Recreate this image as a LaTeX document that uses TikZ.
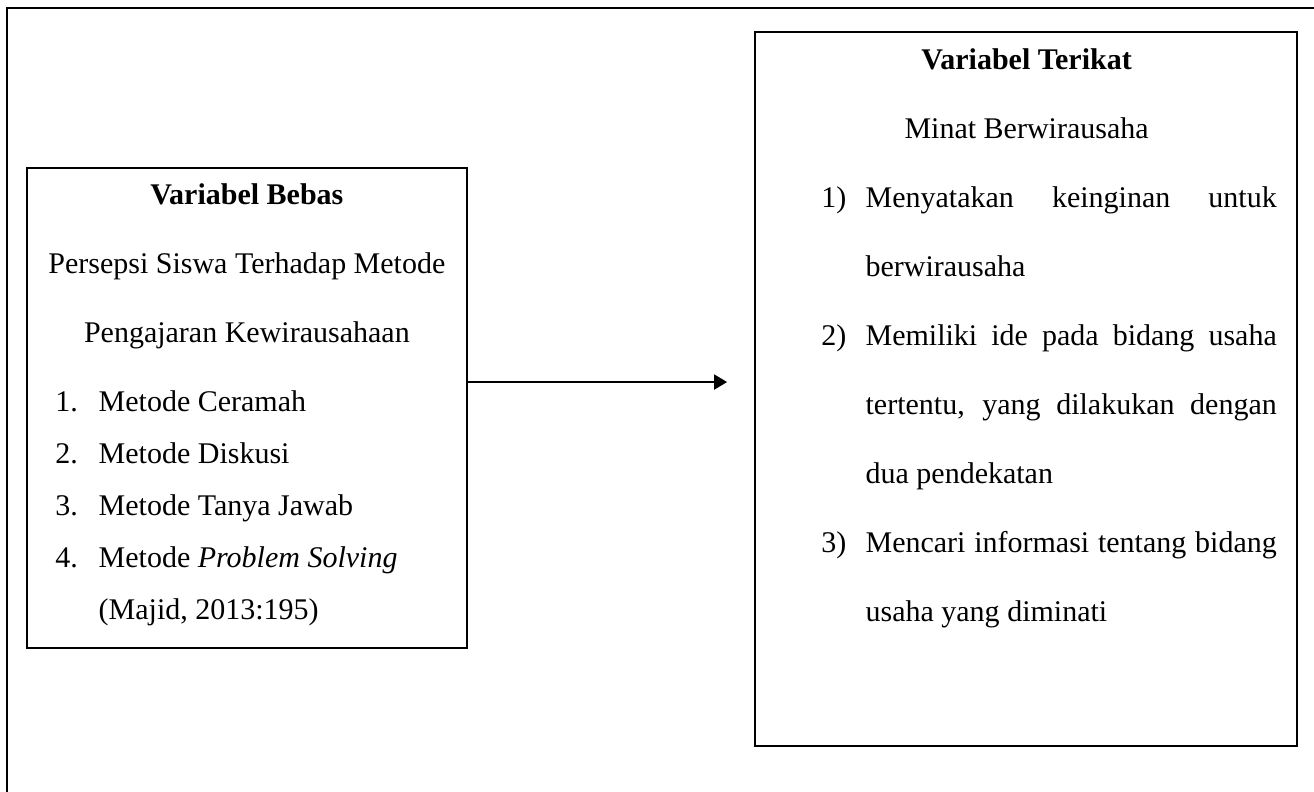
\documentclass[tikz,border=0pt]{standalone}
\usepackage{fontspec}
\setmainfont{Liberation Serif}
\usetikzlibrary{arrows.meta}

\begin{document}
\begin{tikzpicture}[
        box/.style={draw, line width=0.8pt, inner sep=0pt},
        txt/.style={inner sep=0pt, anchor=base, font=\fontsize{12}{14}\selectfont},
        txtl/.style={txt, anchor=base west}
    ]
                \useasboundingbox (0,0) rectangle (18.47,11.13);

                % outer frame (cut off at right and bottom)
                \draw[line width=0.8pt] (0.10,0) -- (0.10,11.02) -- (18.47,11.02);

                \node[box, minimum width=6.19cm, minimum height=6.75cm] (bebas) at (3.475,5.395) {};
                \node[box, minimum width=7.62cm, minimum height=10.03cm] (terikat) at (14.42,5.665) {};

                \coordinate (tip) at (10.22,5.76);
                \draw[line width=0.8pt, -{Triangle[length=5.2pt,width=6pt]}] (bebas.east |- tip) -- (tip);

                % left box
                \node[txt] (bebasjudul) at (3.47,8.25) {\textbf{Variabel Bebas}};
                \node[txt] (persepsi) at (3.47,7.28) {Persepsi Siswa Terhadap Metode};
                \node[txt] (pengajaran) at (3.47,6.31) {Pengajaran Kewirausahaan};
                \node[txtl] (n1) at (0.77,5.34) {1.};
                \node[txtl] (m1) at (1.38,5.34) {Metode Ceramah};
                \node[txtl] (n2) at (0.77,4.61) {2.};
                \node[txtl] (m2) at (1.38,4.61) {Metode Diskusi};
                \node[txtl] (n3) at (0.77,3.88) {3.};
                \node[txtl] (m3) at (1.38,3.88) {Metode Tanya Jawab};
                \node[txtl] (n4) at (0.77,3.15) {4.};
                \node[txtl] (m4) at (1.38,3.15) {Metode \textit{Problem Solving}};
                \node[txtl] (sumber) at (1.38,2.42) {(Majid, 2013:195)};

                % right box
                \node[txt] (terikatjudul) at (14.43,10.15) {\textbf{Variabel Terikat}};
                \node[txt] (minat) at (14.43,9.18) {Minat Berwirausaha};
                \node[txtl] (i1) at (11.54,8.21) {1)};
                \node[txtl] (a1) at (12.16,8.21) {\makebox[5.78cm][s]{Menyatakan keinginan untuk}};
                \node[txtl] (b1) at (12.16,7.24) {berwirausaha};
                \node[txtl] (i2) at (11.54,6.27) {2)};
                \node[txtl] (a2) at (12.16,6.27) {\makebox[5.78cm][s]{Memiliki ide pada bidang usaha}};
                \node[txtl] (b2) at (12.16,5.30) {\makebox[5.78cm][s]{tertentu, yang dilakukan dengan}};
                \node[txtl] (c2) at (12.16,4.33) {dua pendekatan};
                \node[txtl] (i3) at (11.54,3.36) {3)};
                \node[txtl] (a3) at (12.16,3.36) {\makebox[5.78cm][s]{Mencari informasi tentang bidang}};
                \node[txtl] (b3) at (12.16,2.39) {usaha yang diminati};
            \end{tikzpicture}
\end{document}
